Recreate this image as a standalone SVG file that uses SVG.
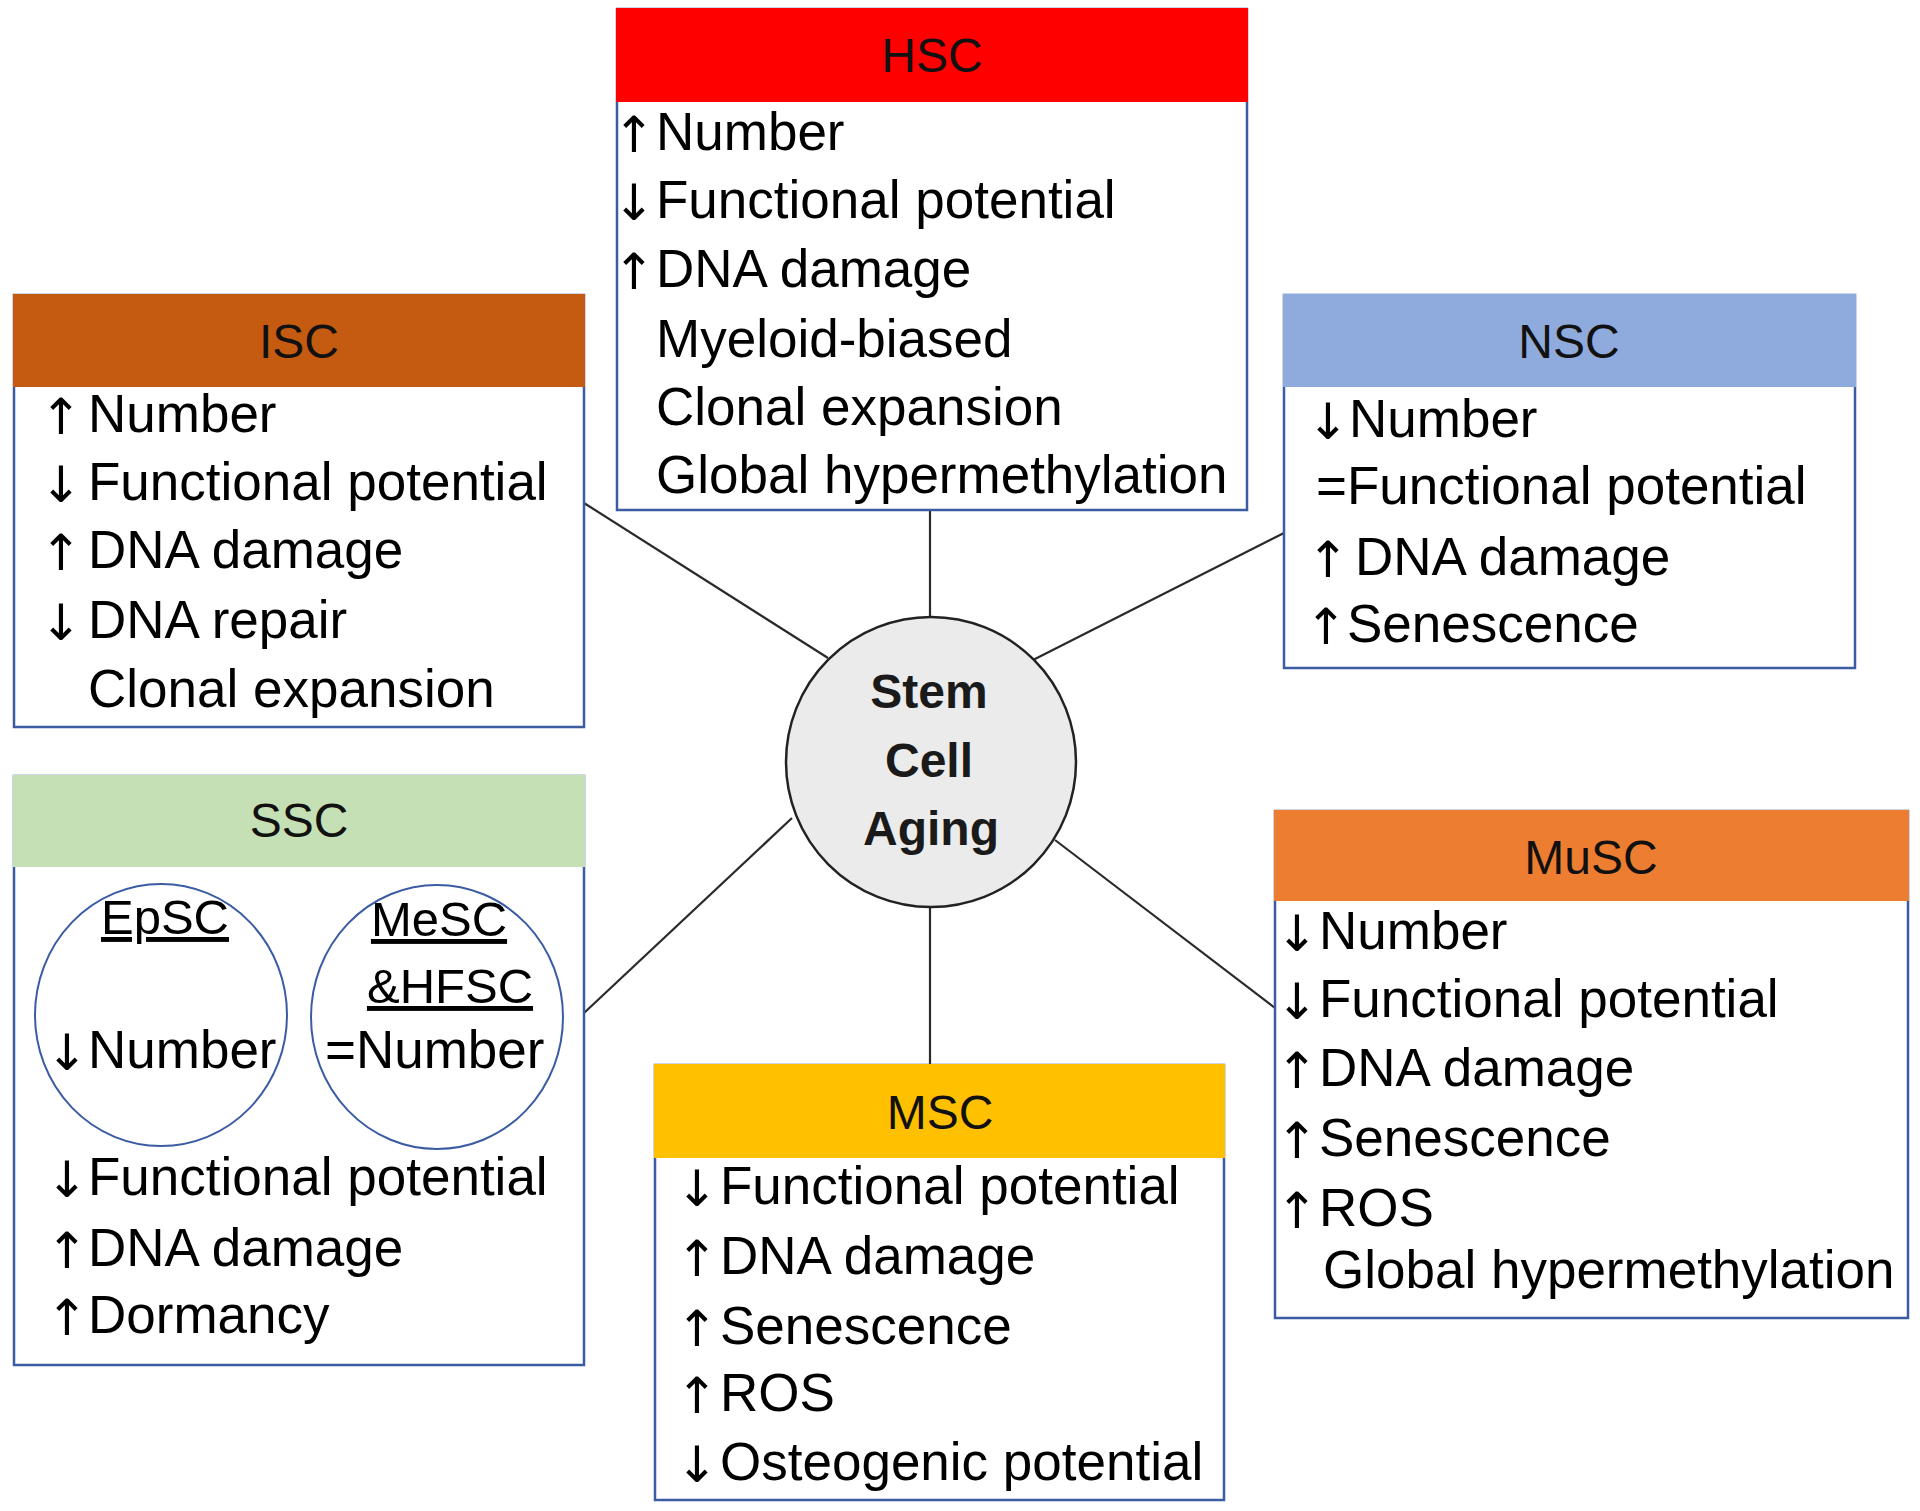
<svg xmlns="http://www.w3.org/2000/svg" width="1920" height="1511" viewBox="0 0 1920 1511">
<style>
.box{fill:#fff;stroke:#3b5ca3;stroke-width:2.5}
.t{font-family:"Liberation Sans",Arial,sans-serif;font-size:53px;fill:#000}
.h{font-family:"Liberation Sans",Arial,sans-serif;font-size:48px;fill:#111;text-anchor:middle}
.a{font-family:"DejaVu Sans",sans-serif;font-size:50px}
.sub{font-family:"Liberation Sans",Arial,sans-serif;font-size:49px;fill:#000;text-anchor:middle;text-decoration:underline}
.c{font-family:"Liberation Sans",Arial,sans-serif;font-size:48px;font-weight:bold;fill:#1a1a1a;text-anchor:middle}
.ell{fill:none;stroke:#3b5ca3;stroke-width:2}
.ln{stroke:#2a2a2a;stroke-width:2.2;fill:none}
</style>
<rect width="1920" height="1511" fill="#fff"/>
<g id="connectors">
<line class="ln" x1="930" y1="510" x2="930" y2="617"/>
<line class="ln" x1="584" y1="503" x2="828" y2="658"/>
<line class="ln" x1="1033" y1="660" x2="1284" y2="533"/>
<line class="ln" x1="584" y1="1013" x2="792" y2="818"/>
<line class="ln" x1="930" y1="906" x2="930" y2="1065"/>
<line class="ln" x1="1055" y1="840" x2="1275" y2="1008"/>
</g>
<g id="center">
<circle cx="931" cy="762" r="145" fill="#ebebeb" stroke="#222" stroke-width="2.5"/>
<text class="c" x="929" y="708">Stem</text>
<text class="c" x="929" y="777">Cell</text>
<text class="c" x="931" y="845">Aging</text>
</g>
<g id="hsc">
<rect class="box" x="617" y="9" width="630" height="501"/>
<rect x="616" y="8" width="632" height="94" fill="#ff0000"/>
<text class="h" x="932" y="72">HSC</text>
<text class="t"><tspan class="a" x="613" y="152">↑</tspan><tspan x="656" y="150">Number</tspan></text>
<text class="t"><tspan class="a" x="613" y="220">↓</tspan><tspan x="656" y="218">Functional potential</tspan></text>
<text class="t"><tspan class="a" x="613" y="289">↑</tspan><tspan x="656" y="287">DNA damage</tspan></text>
<text class="t" x="656" y="357">Myeloid-biased</text>
<text class="t" x="656" y="425">Clonal expansion</text>
<text class="t" x="656" y="493">Global hypermethylation</text>
</g>
<g id="isc">
<rect class="box" x="14" y="295" width="570" height="432"/>
<rect x="13" y="294" width="572" height="93" fill="#c55a11"/>
<text class="h" x="299" y="358">ISC</text>
<text class="t"><tspan class="a" x="40" y="434">↑</tspan><tspan x="88" y="432">Number</tspan></text>
<text class="t"><tspan class="a" x="40" y="502">↓</tspan><tspan x="88" y="500">Functional potential</tspan></text>
<text class="t"><tspan class="a" x="40" y="570">↑</tspan><tspan x="88" y="568">DNA damage</tspan></text>
<text class="t"><tspan class="a" x="40" y="640">↓</tspan><tspan x="88" y="638">DNA repair</tspan></text>
<text class="t" x="88" y="707">Clonal expansion</text>
</g>
<g id="nsc">
<rect class="box" x="1284" y="295" width="571" height="373"/>
<rect x="1283" y="294" width="573" height="93" fill="#8faadc"/>
<text class="h" x="1569" y="358">NSC</text>
<text class="t"><tspan class="a" x="1307" y="439">↓</tspan><tspan x="1349" y="437">Number</tspan></text>
<text class="t" x="1316" y="504">=Functional potential</text>
<text class="t"><tspan class="a" x="1307" y="577">↑</tspan><tspan x="1355" y="575">DNA damage</tspan></text>
<text class="t"><tspan class="a" x="1305" y="644">↑</tspan><tspan x="1347" y="642">Senescence</tspan></text>
</g>
<g id="ssc">
<rect class="box" x="14" y="776" width="570" height="589"/>
<rect x="13" y="775" width="572" height="92" fill="#c5e0b4"/>
<text class="h" x="299" y="837">SSC</text>
<g id="epsc">
<ellipse class="ell" cx="161" cy="1015" rx="126" ry="131"/>
<text class="sub" x="165" y="934">EpSC</text>
<text class="t"><tspan class="a" x="46" y="1070">↓</tspan><tspan x="88" y="1068">Number</tspan></text>
</g>
<g id="mesc">
<ellipse class="ell" cx="437" cy="1017" rx="126" ry="132"/>
<text class="sub" x="439" y="936">MeSC</text>
<text class="sub" x="450" y="1003">&amp;HFSC</text>
<text class="t" x="325" y="1068">=Number</text>
</g>
<text class="t"><tspan class="a" x="46" y="1197">↓</tspan><tspan x="88" y="1195">Functional potential</tspan></text>
<text class="t"><tspan class="a" x="46" y="1268">↑</tspan><tspan x="88" y="1266">DNA damage</tspan></text>
<text class="t"><tspan class="a" x="46" y="1335">↑</tspan><tspan x="88" y="1333">Dormancy</tspan></text>
</g>
<g id="msc">
<rect class="box" x="655" y="1065" width="569" height="435"/>
<rect x="654" y="1064" width="571" height="94" fill="#ffc000"/>
<text class="h" x="940" y="1129">MSC</text>
<text class="t"><tspan class="a" x="676" y="1206">↓</tspan><tspan x="720" y="1204">Functional potential</tspan></text>
<text class="t"><tspan class="a" x="676" y="1276">↑</tspan><tspan x="720" y="1274">DNA damage</tspan></text>
<text class="t"><tspan class="a" x="676" y="1346">↑</tspan><tspan x="720" y="1344">Senescence</tspan></text>
<text class="t"><tspan class="a" x="676" y="1413">↑</tspan><tspan x="720" y="1411">ROS</tspan></text>
<text class="t"><tspan class="a" x="676" y="1482">↓</tspan><tspan x="720" y="1480">Osteogenic potential</tspan></text>
</g>
<g id="musc">
<rect class="box" x="1275" y="811" width="633" height="507"/>
<rect x="1274" y="810" width="635" height="91" fill="#ed7d31"/>
<text class="h" x="1591" y="874">MuSC</text>
<text class="t"><tspan class="a" x="1276" y="951">↓</tspan><tspan x="1319" y="949">Number</tspan></text>
<text class="t"><tspan class="a" x="1276" y="1019">↓</tspan><tspan x="1319" y="1017">Functional potential</tspan></text>
<text class="t"><tspan class="a" x="1276" y="1088">↑</tspan><tspan x="1319" y="1086">DNA damage</tspan></text>
<text class="t"><tspan class="a" x="1276" y="1158">↑</tspan><tspan x="1319" y="1156">Senescence</tspan></text>
<text class="t"><tspan class="a" x="1276" y="1228">↑</tspan><tspan x="1319" y="1226">ROS</tspan></text>
<text class="t" x="1323" y="1288">Global hypermethylation</text>
</g>
</svg>
